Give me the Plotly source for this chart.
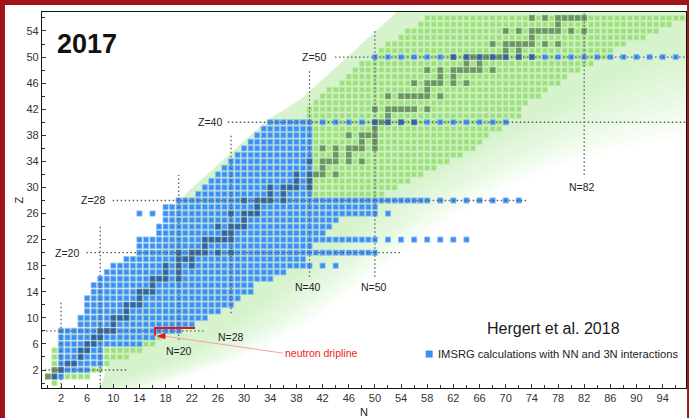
import plotly.graph_objects as go

# ---------------- nuclide data (list index = proton number Z) ----------------
# experimentally known nuclides: neutron-number range per Z
known_nmin = [1, 0, 1, 1, 1, 1, 2, 3, 4, 5, 5, 7, 7, 8, 8, 9, 10, 11, 12, 13,
              14, 18, 17, 20, 19, 21, 19, 23, 20, 27, 24, 29, 28, 31, 30, 33, 33, 34, 35, 37,
              38, 40, 40, 41, 42, 43, 45, 46, 47, 48, 50, 51, 52, 54, 55, 57, 58]
known_nmax = [1, 6, 8, 9, 12, 14, 16, 17, 20, 22, 24, 26, 28, 29, 30, 31, 32, 34, 35, 37,
              38, 40, 41, 42, 43, 44, 46, 47, 51, 51, 53, 55, 57, 59, 61, 63, 65, 66, 67, 69,
              70, 72, 72, 73, 75, 76, 78, 79, 81, 83, 85, 86, 88, 91, 93, 95, 97]

# IMSRG calculations: contiguous neutron-number range per Z (Z = 1 ... 40)
calc_nmin = [None, 1, 2, 2, 2, 2, 2, 2, 2, 5, 5, 6, 6, 6, 7, 7, 8, 9, 10, 12,
             14, 14, 14, 17, 17, 18, 18, 18, 20, 23, 24, 25, 26, 27, 28, 29, 30, 31, 32, 33, 34]
calc_nmax = [None, 2, 6, 8, 8, 8, 14, 16, 20, 22, 24, 26, 28, 29, 31, 31, 34, 36, 40, 39,
             50, 40, 50, 42, 43, 44, 50, 50, 58, 40, 40, 40, 40, 40, 40, 40, 40, 40, 40, 40, 40]

# IMSRG calculations outside the contiguous block (isotopic chains)
chain_z = [18, 22, 26, 28, 40, 50]
chain_n = [
    [42, 44],
    [52, 54, 56, 58, 60, 62, 64],
    [14, 16, 52],
    [60, 62, 64, 66, 68, 70, 72],
    [42, 44, 46, 48, 50, 52, 54, 56, 58, 60, 62, 64, 66, 68, 70],
    [50, 52, 54, 56, 58, 60, 62, 64, 66, 68, 70, 72, 74, 76, 78, 80, 82, 84, 86, 88,
     90, 92, 94, 96],
]

# stable nuclides: neutron numbers per Z
stable_n = [
    [], [0, 1], [1, 2], [3, 4], [5], [5, 6], [6, 7], [7, 8], [8, 9, 10], [10],
    [10, 11, 12], [12], [12, 13, 14], [14], [14, 15, 16], [16], [16, 17, 18, 20], [18, 20],
    [18, 20, 22], [20, 21, 22], [20, 22, 23, 24, 26, 28], [24], [24, 25, 26, 27, 28],
    [27, 28], [26, 28, 29, 30], [30], [28, 30, 31, 32], [32], [30, 32, 33, 34, 36],
    [34, 36], [34, 36, 37, 38, 40], [38, 40], [38, 40, 41, 42, 44], [42],
    [40, 42, 43, 44, 46, 48], [44, 46], [42, 44, 46, 47, 48, 50], [48, 50],
    [46, 48, 49, 50], [50], [50, 51, 52, 54, 56], [52], [50, 52, 53, 54, 55, 56, 58],
    [], [52, 54, 55, 56, 57, 58, 60], [58], [56, 58, 59, 60, 62, 64], [60, 62],
    [58, 60, 62, 63, 64, 65, 66, 68], [64, 66], [62, 64, 65, 66, 67, 68, 69, 70, 72, 74],
    [70, 72], [68, 70, 71, 72, 73, 74, 76, 78], [74], [70, 72, 74, 75, 76, 77, 78, 80, 82],
    [78], [74, 76, 78, 79, 80, 81, 82],
]

# magic-number guide lines: (value, start, end)
magic_z_lines = [(2, -0.5, 12), (8, -0.9, 24), (20, 5.9, 54), (28, 9.9, 73.4),
                 (40, 27.5, 97.6), (50, 43.9, 97.6)]
magic_n_lines = [(2, -0.8, 12.5), (8, -0.8, 24), (20, 6.6, 31.9), (28, 10.7, 38.2),
                 (40, 16.3, 48), (50, 16.3, 54), (82, 31.9, 57)]

# ---------------- styling ----------------
GREEN = "#9ce07d"
GREEN_EDGE = "#c6efb3"
BLUE = "#3a8ff2"
BLUE_EDGE = "#8ec0f7"
FONT = "Liberation Sans, Arial, sans-serif"
SQ = 5.2

X_RANGE = [-0.905, 97.57]
Y_RANGE = [-0.76, 56.91]

# background band: sharp upper edge, fades from the inner to the outer lower edge
BAND_UPPER = [(8.0, -1.0), (10.0, 6.0), (16.0, 18.0), (21.0, 29.0), (33.5, 40.3),
              (38.5, 43.4), (54.0, 57.5)]
BAND_INNER = [(6, -1), (20, 4), (30, 11), (42, 20), (52, 29), (64, 36), (76, 42),
              (88, 48), (99, 53)]
BAND_OUTER = [(16, -1), (30, 4), (40, 9), (49, 16), (60, 24), (70, 30), (80, 34),
              (90, 36.5), (99, 38)]
BAND_STEPS = 12


def block_cells(nmin, nmax):
    xs, ys = [], []
    for z, (a, b) in enumerate(zip(nmin, nmax)):
        if a is None:
            continue
        for n in range(a, b + 1):
            xs.append(n)
            ys.append(z)
    return xs, ys


gx, gy = block_cells(known_nmin, known_nmax)
bx, by = block_cells(calc_nmin, calc_nmax)
for z, ns in zip(chain_z, chain_n):
    for n in ns:
        bx.append(n)
        by.append(z)

occupied = set(zip(gx, gy)) | set(zip(bx, by))
sx, sy = [], []
for z, ns in enumerate(stable_n):
    for n in ns:
        if (n, z) in occupied:
            sx.append(n)
            sy.append(z)

fig = go.Figure()

for k in range(1, BAND_STEPS + 1):
    t = k / BAND_STEPS
    lower = [(a[0] + (b[0] - a[0]) * t, a[1] + (b[1] - a[1]) * t)
             for a, b in zip(BAND_INNER, BAND_OUTER)]
    pts = BAND_UPPER + [(99.0, 58.0)] + lower[::-1]
    fig.add_trace(go.Scatter(x=[p[0] for p in pts], y=[p[1] for p in pts], mode="lines",
                             fill="toself", fillcolor="rgba(177,228,155,0.05)",
                             line=dict(width=0), hoverinfo="skip", showlegend=False))

fig.add_trace(go.Scatter(x=gx, y=gy, mode="markers", hoverinfo="skip", showlegend=False,
                         marker=dict(symbol="square", size=SQ, color=GREEN,
                                     line=dict(width=0.8, color=GREEN_EDGE))))
fig.add_trace(go.Scatter(x=bx, y=by, mode="markers", hoverinfo="skip", showlegend=False,
                         marker=dict(symbol="square", size=SQ, color=BLUE,
                                     line=dict(width=0.8, color=BLUE_EDGE))))
fig.add_trace(go.Scatter(x=sx, y=sy, mode="markers", hoverinfo="skip", showlegend=False,
                         marker=dict(symbol="square", size=SQ + 0.6,
                                     color="rgba(20,30,40,0.38)", line=dict(width=0))))

# magic-number dotted lines
for z, a, b in magic_z_lines:
    fig.add_trace(go.Scatter(x=[a, b], y=[z, z], mode="lines", hoverinfo="skip",
                             showlegend=False,
                             line=dict(color="#5e5e5e", width=1.3, dash="1.5px,2.5px")))
for n, a, b in magic_n_lines:
    fig.add_trace(go.Scatter(x=[n, n], y=[a, b], mode="lines", hoverinfo="skip",
                             showlegend=False,
                             line=dict(color="#5e5e5e", width=1.3, dash="1.5px,2.5px")))

# neutron dripline marker
fig.add_trace(go.Scatter(x=[17.8, 35.9], y=[7.2, 4.6], mode="lines", hoverinfo="skip",
                         showlegend=False, line=dict(color="#f4a0a0", width=1)))
fig.add_trace(go.Scatter(x=[22.5, 16.4, 16.4], y=[8.45, 8.45, 7.3], mode="lines",
                         hoverinfo="skip", showlegend=False,
                         line=dict(color="#e8141c", width=2)))
fig.add_trace(go.Scatter(x=[16.8, 17.9, 17.9, 16.8], y=[7.2, 7.6, 6.8, 7.2], mode="lines",
                         fill="toself", fillcolor="#e8141c", hoverinfo="skip",
                         showlegend=False, line=dict(color="#e8141c", width=1)))

# legend marker
fig.add_trace(go.Scatter(x=[58.3], y=[4.45], mode="markers", hoverinfo="skip",
                         showlegend=False,
                         marker=dict(symbol="square", size=7, color=BLUE, line=dict(width=0))))

ann = []


def label(text, n, z, size=10.5, anchor="center", color="#222", family=FONT, bold=False):
    ann.append(dict(x=n, y=z, xref="x", yref="y", text=("<b>%s</b>" % text) if bold else text,
                    showarrow=False, xanchor=anchor, yanchor="middle",
                    font=dict(size=size, color=color, family=family)))


label("Z=20", 5.0, 20, anchor="right")
label("Z=28", 9.1, 28, anchor="right")
label("Z=40", 26.9, 40, anchor="right")
label("Z=50", 42.9, 50, anchor="right")
label("N=20", 20, 4.9)
label("N=28", 28, 7.0)
label("N=40", 39.8, 14.8)
label("N=50", 49.8, 14.8)
label("N=82", 81.7, 30.0)
label("neutron dripline", 35.9, 4.6, size=10.5, anchor="left", color="#ee1c1c")
label("IMSRG calculations with NN and 3N interactions", 59.3, 4.45, size=11.2, anchor="left")
label("Hergert et al. 2018", 77.3, 8.3, size=16, color="#1a1a1a")
label("2017", 6.0, 52.0, size=27, color="#111", bold=True)

axis_common = dict(showgrid=False, zeroline=False, showline=True, linecolor="#111",
                   linewidth=1.3, mirror=True, ticks="inside", ticklen=4, tickwidth=1,
                   tickcolor="#333", tickfont=dict(size=11, color="#333", family=FONT),
                   tickmode="linear", tick0=2, dtick=4,
                   minor=dict(dtick=2, tick0=0, ticks="inside", ticklen=3, tickcolor="#333"))

fig.update_layout(
    width=689, height=418,
    margin=dict(l=42, r=3, t=12, b=30),
    paper_bgcolor="#a3131a",
    plot_bgcolor="white",
    xaxis=dict(range=X_RANGE, title=dict(text="N", standoff=4,
                                         font=dict(size=11, color="#222", family=FONT)),
               **axis_common),
    yaxis=dict(range=Y_RANGE, title=dict(text="Z", standoff=0,
                                         font=dict(size=11, color="#222", family=FONT)),
               **axis_common),
    annotations=ann,
    shapes=[dict(type="rect", xref="paper", yref="paper", x0=-0.0575, x1=1.0016,
                 y0=-0.09, y1=1.0186, fillcolor="white", line=dict(width=0), layer="below")],
    showlegend=False,
)

fig.write_html("out.html")
